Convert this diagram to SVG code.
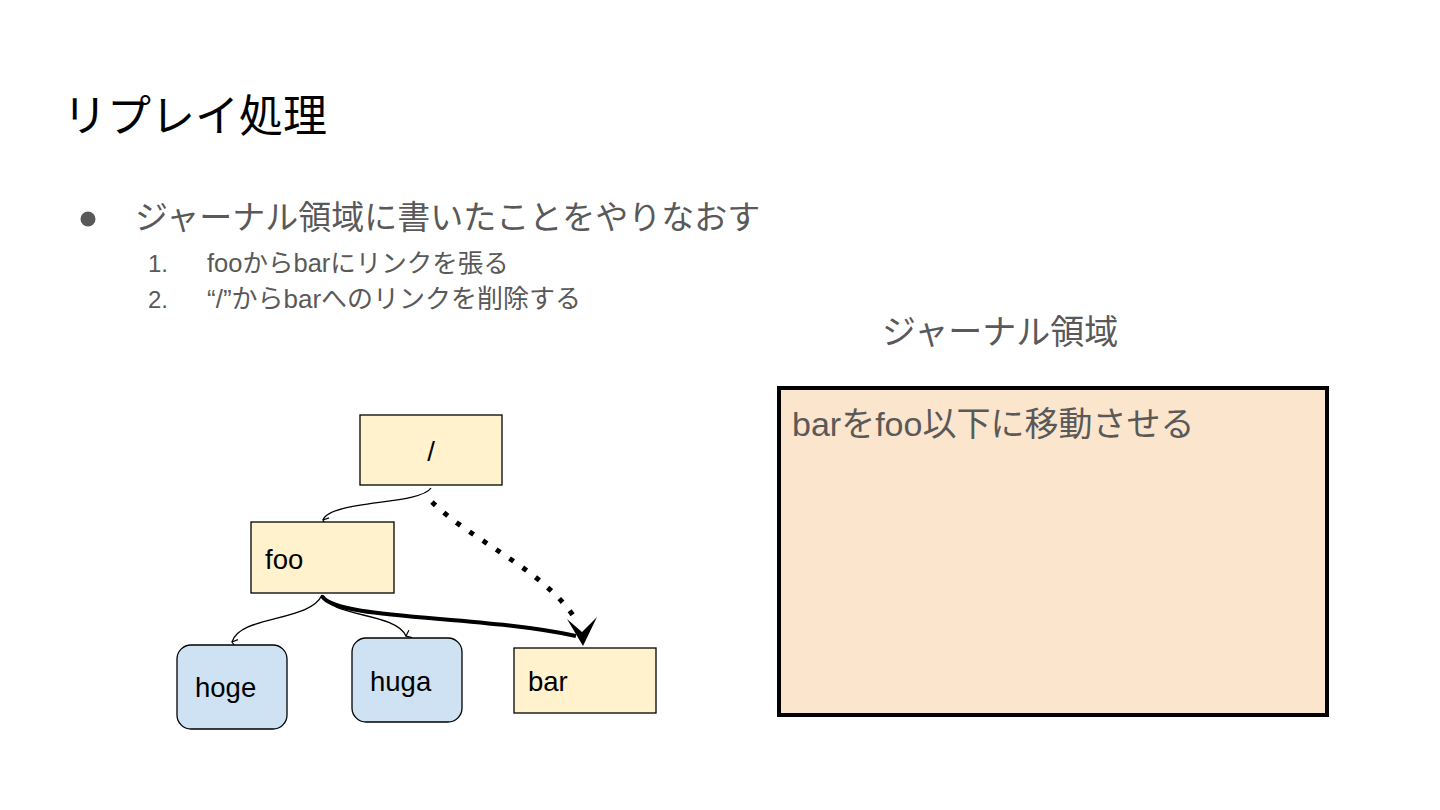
<svg xmlns="http://www.w3.org/2000/svg" width="1440" height="810" viewBox="0 0 1440 810">
<defs>
<style>
text{font-family:"Liberation Sans","Noto Sans CJK JP",sans-serif}
.gray{fill:#595959}
.node{fill:#fff2cc;stroke:#000;stroke-width:1.3}
.leaf{fill:#cfe2f3;stroke:#000;stroke-width:1.3}
.lbl{font-size:27.5px;fill:#000}
.thin{fill:none;stroke:#000;stroke-width:1.3}
</style>
<marker id="sm" viewBox="0 0 10 10" refX="5" refY="8" markerWidth="10" markerHeight="10" markerUnits="userSpaceOnUse" orient="auto-start-reverse">
<path d="M1,3 L5,8 L9,3" fill="none" stroke="#000" stroke-width="1.2"/>
</marker>
</defs>
<rect width="1440" height="810" fill="#fff"/>
<text x="63" y="132" font-size="44" fill="#000">リプレイ処理</text>
<circle cx="88" cy="219" r="7.5" fill="#595959"/>
<text x="135" y="229" font-size="33" class="gray">ジャーナル領域に書いたことをやりなおす</text>
<text x="148" y="272" font-size="24" class="gray">1.</text>
<text x="207" y="272" font-size="25.5" class="gray">fooからbarにリンクを張る</text>
<text x="148" y="308" font-size="24" class="gray">2.</text>
<text x="207" y="308" font-size="26" class="gray">“/”からbarへのリンクを削除する</text>
<text x="882" y="344" font-size="34" class="gray">ジャーナル領域</text>

<g id="edges">
<path d="M431,488 C420,505 330,500 323,520" class="thin" marker-end="url(#sm)"/>
<path d="M322,595 C310,622 240,615 232,642" class="thin" marker-end="url(#sm)"/>
<path d="M322,595 C332,618 395,612 406,636" class="thin" marker-end="url(#sm)"/>
<path d="M322,596 C335,620 480,615 576,636" fill="none" stroke="#000" stroke-width="4"/>
<path d="M432,502 C470,540 545,570 576,620" fill="none" stroke="#000" stroke-width="5" stroke-dasharray="5,11" stroke-linecap="butt"/>
<path d="M567,619 L583,646 L597,617 L582,632 Z" fill="#000"/>
</g>

<g id="n-root"><rect x="360" y="415" width="142" height="70" class="node"/><text x="431" y="461" class="lbl" text-anchor="middle">/</text></g>
<g id="n-foo"><rect x="251" y="522" width="143" height="71" class="node"/><text x="265" y="569" class="lbl">foo</text></g>
<g id="n-hoge"><rect x="177" y="645" width="110" height="84" rx="14" class="leaf"/><text x="195" y="697" class="lbl">hoge</text></g>
<g id="n-huga"><rect x="352" y="638" width="110" height="84" rx="14" class="leaf"/><text x="370" y="691" class="lbl">huga</text></g>
<g id="n-bar"><rect x="514" y="648" width="142" height="65" class="node"/><text x="528" y="691" class="lbl">bar</text></g>
<g id="n-journal"><rect x="779" y="388" width="548" height="327" fill="#fce5cd" stroke="#000" stroke-width="4"/><text x="792" y="436" font-size="34" class="gray">barをfoo以下に移動させる</text></g>
</svg>
